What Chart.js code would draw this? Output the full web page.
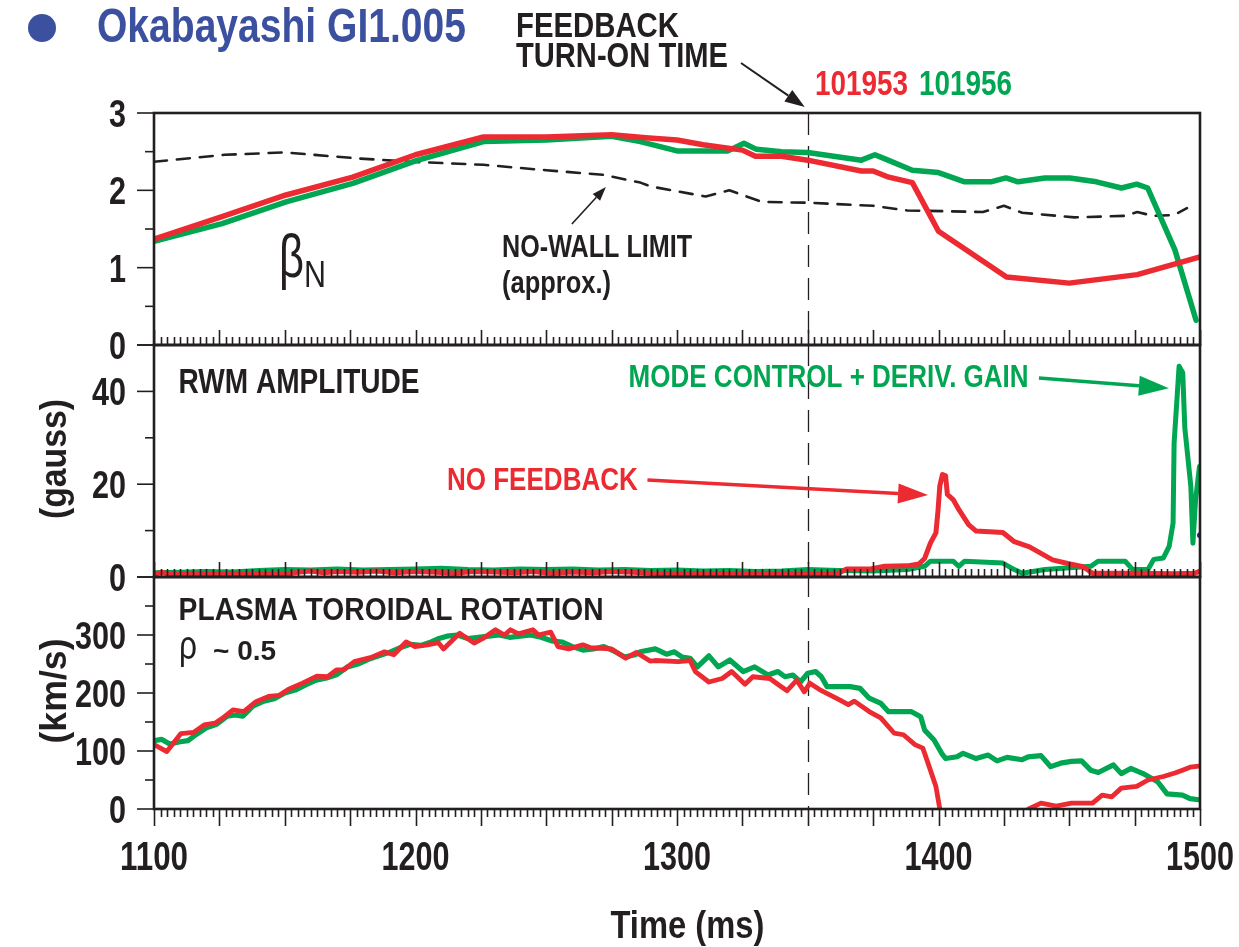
<!DOCTYPE html>
<html>
<head>
<meta charset="utf-8">
<script src="https://cdn.jsdelivr.net/npm/chart.js@4.4.1/dist/chart.umd.min.js"></script>
<style>
  html, body { margin: 0; padding: 0; background: #ffffff; }
  canvas { display: block; }
</style>
</head>
<body>
<canvas id="c" width="1239" height="947"></canvas>
<script>
// ---- tick labels ----
const timeTicks = [1100, 1200, 1300, 1400, 1500];
const betaTicks = [0, 1, 2, 3];
const rwmTicks = [0, 20, 40];
const rotationTicks = [0, 100, 200, 300];
const feedbackTime = 1350;

// ---- beta_N (top panel) ----
const betaRedTime = [1100, 1126, 1150.5, 1176, 1200, 1226, 1250, 1275, 1288, 1300, 1310, 1325, 1330, 1340, 1350, 1370.5, 1375, 1381, 1390, 1400, 1426, 1450, 1476, 1500];
const betaRedValue = [1.37, 1.66, 1.94, 2.17, 2.46, 2.69, 2.69, 2.72, 2.68, 2.65, 2.59, 2.52, 2.44, 2.44, 2.39, 2.25, 2.25, 2.17, 2.10, 1.47, 0.88, 0.80, 0.91, 1.14];
const betaGreenTime = [1100, 1126, 1150.5, 1176, 1200, 1226, 1250, 1275, 1286, 1300, 1319.5, 1325.6, 1330.4, 1340, 1350, 1370.5, 1375.7, 1380, 1390, 1400, 1410, 1420, 1425.8, 1430.4, 1440.7, 1450.2, 1460.4, 1470, 1475.8, 1480, 1490.4, 1498.5];
const betaGreenValue = [1.34, 1.57, 1.85, 2.09, 2.38, 2.63, 2.65, 2.70, 2.63, 2.51, 2.51, 2.61, 2.53, 2.50, 2.49, 2.39, 2.46, 2.40, 2.26, 2.23, 2.11, 2.11, 2.16, 2.11, 2.16, 2.16, 2.11, 2.03, 2.08, 2.03, 1.23, 0.32];
const noWallTime = [1100, 1127, 1150, 1179, 1198, 1226, 1250, 1272, 1286, 1290, 1311, 1320, 1332.5, 1350, 1375, 1388, 1417, 1425, 1432, 1452, 1471, 1476, 1482, 1490, 1495];
const noWallValue = [2.37, 2.46, 2.49, 2.41, 2.37, 2.33, 2.26, 2.20, 2.10, 2.05, 1.92, 2.00, 1.85, 1.84, 1.80, 1.74, 1.72, 1.80, 1.71, 1.65, 1.67, 1.72, 1.67, 1.68, 1.77];

// ---- RWM amplitude (middle panel, gauss) ----
const rwmRedTime = [1100, 1103, 1106, 1112, 1120, 1130, 1140, 1150, 1156, 1160, 1165, 1170, 1178, 1185, 1192, 1200, 1208, 1215, 1222, 1230, 1238, 1245, 1252, 1260, 1268, 1275, 1283, 1290, 1300, 1310, 1320, 1330, 1340, 1350, 1358, 1361.8, 1364.7, 1373.5, 1379.4, 1388.1, 1392.5, 1394.7, 1396.9, 1399, 1399.8, 1400.5, 1401.5, 1402.7, 1403.4, 1405.6, 1407.8, 1411.5, 1414.4, 1424.6, 1429, 1434.8, 1439.2, 1443.6, 1449.4, 1455.3, 1458.9, 1475.8, 1490, 1498, 1500];
const rwmRedValue = [0.6, 1.0, 0.6, 0.6, 0.6, 0.7, 0.6, 0.6, 1.1, 1.3, 0.9, 1.2, 1.0, 1.3, 0.9, 1.2, 1.0, 0.8, 1.2, 1.1, 0.9, 1.2, 0.8, 1.1, 0.9, 1.2, 1.0, 0.8, 0.7, 0.6, 0.7, 0.6, 0.7, 0.6, 0.7, 0.8, 1.7, 1.7, 2.3, 2.4, 2.8, 4.0, 7.3, 9.5, 14.2, 19.6, 22.1, 21.8, 17.8, 16.7, 14.5, 11.3, 9.9, 9.6, 7.6, 6.5, 5.1, 3.7, 2.9, 2.2, 0.8, 0.8, 0.7, 0.8, 1.3];
const rwmGreenTime = [1100, 1110, 1120, 1130, 1140, 1150, 1160, 1170, 1180, 1190, 1200, 1210, 1220, 1230, 1240, 1250, 1260, 1270, 1280, 1290, 1300, 1310, 1320, 1330, 1340, 1350, 1361.8, 1375, 1388.1, 1394.7, 1396.9, 1405.6, 1407.8, 1410, 1424.6, 1429, 1432, 1440.7, 1458.3, 1461, 1471.4, 1474.3, 1480.1, 1482.3, 1486, 1488.2, 1489.7, 1490.1, 1492, 1493.4, 1494.2, 1496.5, 1497.3, 1498.3, 1499.8];
const rwmGreenValue = [0.9, 1.0, 1.2, 1.1, 1.4, 1.6, 1.5, 1.7, 1.5, 1.6, 1.7, 1.9, 1.6, 1.5, 1.7, 1.6, 1.7, 1.5, 1.6, 1.4, 1.5, 1.3, 1.4, 1.2, 1.3, 1.6, 1.4, 1.3, 1.6, 2.3, 3.4, 3.4, 2.3, 3.4, 3.0, 1.6, 0.8, 1.6, 2.3, 3.4, 3.4, 1.6, 1.6, 3.8, 4.1, 6.6, 11.6, 28.9, 45.4, 44.0, 32.1, 19.5, 7.3, 16.6, 23.8];
const rwmMarkTime = [1500];
const rwmMarkValue = [9];

// ---- plasma toroidal rotation (bottom panel, km/s) ----
const rotRedTime = [1100.4, 1104.9, 1110.3, 1115.1, 1119.2, 1123.3, 1126, 1130.2, 1134.3, 1139, 1143.8, 1147.9, 1151.3, 1156.8, 1162.3, 1166.4, 1169.8, 1172.5, 1176.6, 1182.8, 1188.2, 1191.7, 1196.4, 1199.8, 1204.6, 1208.7, 1210.7, 1216.9, 1222.4, 1225.8, 1230.6, 1234, 1236.3, 1239.4, 1244.9, 1247, 1251.7, 1254.5, 1258.6, 1264, 1267, 1275, 1280.4, 1284.5, 1289.7, 1291.7, 1300.5, 1305, 1307, 1312.2, 1317.3, 1320.9, 1326, 1329, 1335.5, 1339.2, 1342.1, 1345.8, 1348.7, 1350.8, 1354.5, 1361.8, 1365.5, 1367.8, 1373.5, 1377.9, 1383, 1386.6, 1391, 1394, 1396.9, 1399, 1400.5, 1417, 1434.5, 1439.2, 1445, 1450.9, 1458.9, 1462.6, 1466.3, 1469.9, 1475.8, 1480.1, 1486, 1490.4, 1493.3, 1496.2, 1499.5];
const rotRedValue = [110, 99, 130, 132, 145, 148, 156, 171, 168, 185, 194, 196, 206, 217, 229, 228, 240, 240, 254, 261, 271, 266, 288, 280, 283, 287, 276, 303, 286, 294, 309, 300, 309, 302, 309, 300, 305, 280, 276, 283, 278, 276, 260, 270, 255, 256, 254, 256, 237, 219, 225, 237, 215, 228, 225, 213, 204, 222, 202, 217, 206, 189, 180, 186, 168, 157, 131, 128, 111, 105, 67, 39, 0, null, 0, 10, 5, 10, 10, 24, 21, 36, 39, 50, 56, 62, 67, 72, 74];
const rotGreenTime = [1100, 1103, 1106, 1110, 1113, 1116, 1120, 1124, 1128, 1131, 1134, 1138, 1142, 1146, 1150, 1154, 1158, 1162, 1166, 1170, 1174, 1178, 1182, 1186, 1190, 1194, 1198, 1202, 1206, 1209, 1212, 1216, 1220, 1224, 1228, 1232, 1236, 1240, 1244, 1248, 1252, 1256, 1260, 1264, 1268, 1272, 1276, 1280, 1284, 1286, 1291.7, 1296, 1299, 1302, 1305, 1307.8, 1312.2, 1315.8, 1320.2, 1325.3, 1329.7, 1334.8, 1338.6, 1341.3, 1344.3, 1347.2, 1350, 1353, 1355.2, 1357.4, 1366.2, 1370, 1373.5, 1378, 1380.8, 1389.5, 1393.2, 1394.7, 1398.3, 1401.2, 1402.7, 1407.1, 1409.4, 1414.4, 1419, 1422.4, 1426.2, 1432, 1434.3, 1439.2, 1442.9, 1446.7, 1450.9, 1454.7, 1458.2, 1461.1, 1466.9, 1469.9, 1473.5, 1478.7, 1483.8, 1487.4, 1493.3, 1496.2, 1499.5];
const rotGreenValue = [118, 120, 112, 116, 118, 128, 140, 146, 160, 162, 160, 178, 186, 190, 200, 205, 214, 222, 226, 232, 245, 250, 258, 264, 270, 278, 284, 282, 288, 294, 298, 300, 294, 296, 298, 300, 296, 298, 300, 296, 290, 288, 280, 274, 276, 280, 272, 262, 266, 271, 276, 267, 271, 262, 260, 245, 264, 245, 257, 237, 245, 231, 237, 228, 231, 219, 234, 237, 228, 211, 211, 208, 191, 182, 168, 168, 159, 136, 119, 96, 87, 90, 96, 87, 93, 83, 89, 85, 90, 92, 73, 79, 82, 83, 67, 63, 76, 61, 70, 60, 47, 26, 24, 18, 16];

// ---- colours & fonts ----
const INK = '#231f20';
const RED = '#ec2a31';
const GREEN = '#00a651';
const BLUE = '#3c50a0';
const SANS = "'Liberation Sans', Arial, Helvetica, sans-serif";
const DIGIT_W = 17;   // advance of one digit in the axis labels

const pts = (t, v) => t.map((x, i) => ({ x: x, y: v[i] }));

function series(t, v, color, axis, width, dash, radius) {
  return {
    data: pts(t, v),
    yAxisID: axis,
    borderColor: color,
    backgroundColor: color,
    borderWidth: width,
    borderDash: dash || [],
    pointRadius: radius || 0,
    pointBorderWidth: 0,
    fill: false,
    spanGaps: false,
    tension: 0
  };
}

// text squeezed to a set advance width, anchored left / center / right
function fitText(ctx, str, x, y, font, color, width, align) {
  ctx.save();
  ctx.font = font;
  ctx.fillStyle = color;
  ctx.textBaseline = 'alphabetic';
  ctx.textAlign = 'left';
  const w = ctx.measureText(str).width;
  const target = width || w;
  let x0 = x;
  if (align === 'center') x0 = x - target / 2;
  if (align === 'right') x0 = x - target;
  ctx.translate(x0, y);
  ctx.scale(target / w, 1);
  ctx.fillText(str, 0, 0);
  ctx.restore();
}

function verticalText(ctx, str, cx, cy, font, color, length) {
  ctx.save();
  ctx.translate(cx, cy);
  ctx.rotate(-Math.PI / 2);
  ctx.font = font;
  const w = ctx.measureText(str).width;
  ctx.scale(length / w, 1);
  ctx.fillStyle = color;
  ctx.textAlign = 'center';
  ctx.textBaseline = 'middle';
  ctx.fillText(str, 0, 0);
  ctx.restore();
}

function arrow(ctx, x1, y1, x2, y2, color, lw, headLen, headHalf) {
  const a = Math.atan2(y2 - y1, x2 - x1);
  const bx = x2 - headLen * Math.cos(a), by = y2 - headLen * Math.sin(a);
  ctx.save();
  ctx.strokeStyle = color; ctx.fillStyle = color; ctx.lineWidth = lw;
  ctx.beginPath(); ctx.moveTo(x1, y1); ctx.lineTo(bx, by); ctx.stroke();
  ctx.beginPath();
  ctx.moveTo(x2, y2);
  ctx.lineTo(bx + headHalf * Math.sin(a), by - headHalf * Math.cos(a));
  ctx.lineTo(bx - headHalf * Math.sin(a), by + headHalf * Math.cos(a));
  ctx.closePath(); ctx.fill();
  ctx.restore();
}

const panelAxes = ['yBeta', 'yRwm', 'yRot'];

const decorations = {
  id: 'decorations',
  beforeDatasetsDraw(chart) {
    const { ctx, scales } = chart;
    const x = Math.round(scales.x.getPixelForValue(feedbackTime)) + 0.5;
    ctx.save();
    ctx.strokeStyle = INK;
    ctx.lineWidth = 1.3;
    ctx.setLineDash([22, 11]);
    ctx.beginPath();
    ctx.moveTo(x, scales.yBeta.top);
    ctx.lineTo(x, scales.yRot.bottom);
    ctx.stroke();
    ctx.restore();
  },
  afterDraw(chart) {
    const { ctx, scales } = chart;
    const xs = scales.x;
    const L = xs.left, R = xs.right;
    ctx.save();
    ctx.strokeStyle = INK;
    ctx.lineCap = 'butt';

    // time ticks: inward at the foot of the upper panels, outward below the last one
    ctx.lineWidth = 1.6;
    for (let t = xs.min; t <= xs.max + 1e-6; t += 2.5) {
      const px = Math.round(xs.getPixelForValue(t)) + 0.5;
      const long = Math.abs(t / 25 - Math.round(t / 25)) < 1e-6;
      ['yBeta', 'yRwm'].forEach(id => {
        const b = scales[id].bottom;
        ctx.beginPath(); ctx.moveTo(px, b); ctx.lineTo(px, b - (long ? 15 : 8)); ctx.stroke();
      });
      const b = scales.yRot.bottom;
      ctx.beginPath(); ctx.moveTo(px, b); ctx.lineTo(px, b + (long ? 17 : 8)); ctx.stroke();
    }

    // value ticks on the left edge, with their labels
    panelAxes.forEach(id => {
      const s = scales[id];
      const major = s.options.majorValues;
      s.ticks.forEach(tk => {
        const py = s.getPixelForValue(tk.value);
        const isMajor = major.includes(tk.value) || tk.value === s.max;
        ctx.lineWidth = 1.6;
        ctx.beginPath(); ctx.moveTo(L, py); ctx.lineTo(L - (isMajor ? 17 : 9), py); ctx.stroke();
        if (major.includes(tk.value)) {
          const str = String(tk.value);
          fitText(ctx, str, L - 28, py + 14, `bold 39px ${SANS}`, INK, DIGIT_W * str.length, 'right');
        }
      });
    });

    // time labels
    timeTicks.forEach(t => {
      const str = String(t);
      fitText(ctx, str, xs.getPixelForValue(t), scales.yRot.bottom + 61, `bold 41px ${SANS}`, INK, DIGIT_W * str.length, 'center');
    });

    // panel frames
    ctx.lineWidth = 2.6;
    panelAxes.forEach(id => {
      const s = scales[id];
      ctx.strokeRect(L, s.top, R - L, s.bottom - s.top);
    });
    ctx.restore();

    const X = t => xs.getPixelForValue(t);
    const yb = v => scales.yBeta.getPixelForValue(v);
    const yr = v => scales.yRwm.getPixelForValue(v);
    const yo = v => scales.yRot.getPixelForValue(v);

    // axis titles
    fitText(ctx, 'Time (ms)', X(1304), scales.yRot.bottom + 129, `bold 39px ${SANS}`, INK, 154, 'center');
    verticalText(ctx, '(gauss)', 56, (scales.yRwm.top + scales.yRwm.bottom) / 2 - 2, `bold 36px ${SANS}`, INK, 120);
    verticalText(ctx, '(km/s)', 56, (scales.yRot.top + scales.yRot.bottom) / 2 - 2, `bold 36px ${SANS}`, INK, 105);

    // header
    ctx.save();
    ctx.fillStyle = BLUE;
    ctx.beginPath(); ctx.arc(42, 28, 14, 0, Math.PI * 2); ctx.fill();
    ctx.restore();
    fitText(ctx, 'Okabayashi GI1.005', 97, 42, `bold 48px ${SANS}`, BLUE, 369);
    fitText(ctx, 'FEEDBACK', 516, 37, `bold 35px ${SANS}`, INK, 163);
    fitText(ctx, 'TURN-ON TIME', 516, 67, `bold 35px ${SANS}`, INK, 212);
    fitText(ctx, '101953', 815, 95, `bold 35px ${SANS}`, RED, 93);
    fitText(ctx, '101956', 919, 95, `bold 35px ${SANS}`, GREEN, 93);
    arrow(ctx, 741, 63, X(feedbackTime) - 3, scales.yBeta.top - 6, INK, 2, 20, 7);

    // top panel
    fitText(ctx, '\u03B2', X(1147.8), yb(0.88), `61px ${SANS}`, INK, 25);
    fitText(ctx, 'N', X(1157.4), yb(0.75), `37px ${SANS}`, INK, 22);
    fitText(ctx, 'NO-WALL LIMIT', X(1233.1), yb(1.138), `bold 31px ${SANS}`, INK, 190);
    fitText(ctx, '(approx.)', X(1233.1), yb(0.672), `bold 31px ${SANS}`, INK, 109);
    arrow(ctx, X(1259.8), yb(1.565), X(1272.8), yb(2.043), INK, 1.6, 14, 5);

    // middle panel
    fitText(ctx, 'RWM AMPLITUDE', X(1109.4), yr(39.66), `bold 35px ${SANS}`, INK, 241);
    fitText(ctx, 'NO FEEDBACK', X(1212), yr(18.75), `bold 32px ${SANS}`, RED, 191);
    fitText(ctx, 'MODE CONTROL + DERIV. GAIN', X(1281.5), yr(40.95), `bold 31px ${SANS}`, GREEN, 400);
    arrow(ctx, X(1288.7), yr(20.9), X(1396), yr(17.67), RED, 3.5, 30, 10);
    arrow(ctx, X(1438.4), yr(42.9), X(1488.1), yr(40.7), GREEN, 3.5, 30, 10);

    // bottom panel
    fitText(ctx, 'PLASMA TOROIDAL ROTATION', X(1109.4), yo(325.9), `bold 32px ${SANS}`, INK, 425);
    fitText(ctx, '\u03C1', X(1109.6), yo(258.6), `41px ${SANS}`, INK, 18);
    fitText(ctx, '~ 0.5', X(1122.6), yo(257), `bold 28px ${SANS}`, INK, 63);
  }
};

function panelAxis(min, max, step, labels) {
  return {
    type: 'linear',
    position: 'left',
    stack: 'panels',
    stackWeight: 1,
    min: min,
    max: max,
    majorValues: labels,
    afterFit(s) { s.width = 154; },
    grid: { display: false, drawTicks: false },
    border: { display: false },
    ticks: { stepSize: step, autoSkip: false, display: false },
    title: { display: false }
  };
}

new Chart(document.getElementById('c'), {
  type: 'line',
  data: {
    datasets: [
      series(rwmMarkTime, rwmMarkValue, '#1b2a78', 'yRwm', 0, null, 3),
      series(betaRedTime, betaRedValue, RED, 'yBeta', 5.5),
      series(betaGreenTime, betaGreenValue, GREEN, 'yBeta', 5.5),
      series(noWallTime, noWallValue, INK, 'yBeta', 2.6, [13, 10]),
      series(rwmRedTime, rwmRedValue, RED, 'yRwm', 5),
      series(rwmGreenTime, rwmGreenValue, GREEN, 'yRwm', 5),
      series(rotRedTime, rotRedValue, RED, 'yRot', 4.8),
      series(rotGreenTime, rotGreenValue, GREEN, 'yRot', 5.2)
    ]
  },
  options: {
    responsive: false,
    animation: false,
    devicePixelRatio: 1,
    layout: { padding: { left: 0, right: 39, top: 113, bottom: 0 } },
    plugins: { legend: { display: false }, tooltip: { enabled: false } },
    elements: { line: { borderJoinStyle: 'round', borderCapStyle: 'round' } },
    scales: {
      x: {
        type: 'linear',
        position: 'bottom',
        min: 1100,
        max: 1500,
        afterFit(s) { s.height = 138; },
        grid: { display: false, drawTicks: false },
        border: { display: false },
        ticks: { display: false, stepSize: 100 },
        title: { display: false }
      },
      // stacked panels are laid out bottom-up
      yRot: panelAxis(0, 400, 50, rotationTicks),
      yRwm: panelAxis(0, 50, 10, rwmTicks),
      yBeta: panelAxis(0, 3, 0.5, betaTicks)
    }
  },
  plugins: [decorations]
});
</script>
</body>
</html>
